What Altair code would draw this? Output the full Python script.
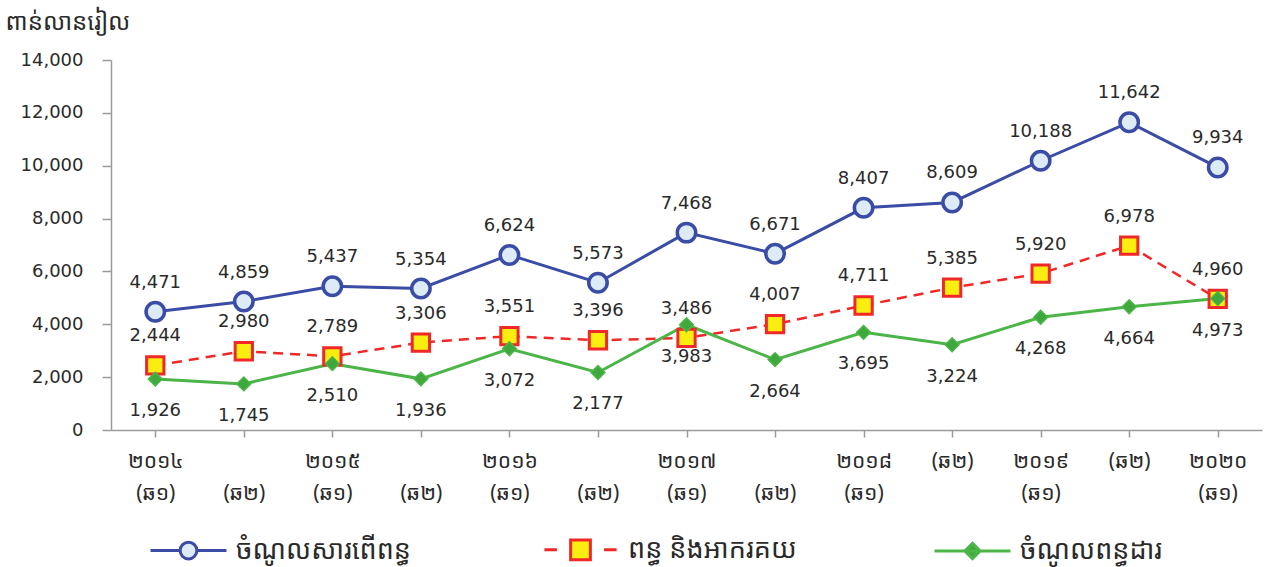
import altair as alt
import pandas as pd
import json

# ---- data ----
x_top = ["២០១៤", "", "២០១៥", "", "២០១៦", "", "២០១៧", "", "២០១៨", "(ឆ២)", "២០១៩", "(ឆ២)", "២០២០"]
x_bottom = ["(ឆ១)", "(ឆ២)", "(ឆ១)", "(ឆ២)", "(ឆ១)", "(ឆ២)", "(ឆ១)", "(ឆ២)", "(ឆ១)", "", "(ឆ១)", "", "(ឆ១)"]
series_names = ["ចំណូលសារពើពន្ធ", "ពន្ធ និងអាករគយ", "ចំណូលពន្ធដារ"]
tax_revenue = [4471, 4859, 5437, 5354, 6624, 5573, 7468, 6671, 8407, 8609, 10188, 11642, 9934]
customs = [2444, 2980, 2789, 3306, 3551, 3396, 3486, 4007, 4711, 5385, 5920, 6978, 4960]
domestic = [1926, 1745, 2510, 1936, 3072, 2177, 3983, 2664, 3695, 3224, 4268, 4664, 4973]
y_title = "ពាន់លានរៀល"

rows = []
for name, vals in zip(series_names, [tax_revenue, customs, domestic]):
    for i, v in enumerate(vals):
        rows.append({"i": i, "series": name, "value": v})
df = pd.DataFrame(rows)

BLUE = "#3A4CA6"
BLUE_FILL = "#DCEBF6"
RED = "#F02828"
YELLOW = "#FAEE10"
GREEN = "#4BB548"
GREEN_FILL = "#3FA83C"
TXT = "#2a2a2a"
GRAY = "#9A9A9A"
KH = "Noto Sans Khmer, Khmer OS, Khmer OS System, Noto Serif Khmer, Noto Sans, sans-serif"
NUMF = "DejaVu Sans"

label_arr = json.dumps([[t, b] for t, b in zip(x_top, x_bottom)], ensure_ascii=False)

x_enc = alt.X(
    "i:O",
    scale=alt.Scale(type="point", padding=0.5),
    axis=alt.Axis(
        title=None, labelAngle=0, labelExpr=f"{label_arr}[datum.value]",
        labelFont=KH, labelFontSize=21, labelColor=TXT, labelLineHeight=32,
        labelPadding=13, labelOverlap=False, labelBound=False,
        domainColor=GRAY, domainWidth=1.5, tickColor=GRAY, tickWidth=1.5, tickSize=7,
    ),
)
y_enc = alt.Y(
    "value:Q",
    scale=alt.Scale(domain=[0, 14000], nice=False),
    axis=alt.Axis(
        values=list(range(0, 14001, 2000)), format=",.0f", grid=False,
        title=y_title, titleAngle=0, titleX=-106, titleY=-38, titleAlign="left",
        titleBaseline="middle", titleFont=KH, titleFontSize=24, titleFontWeight="normal",
        titleColor=TXT,
        labelFont=NUMF, labelFontSize=18, labelColor=TXT, labelPadding=19,
        domainColor=GRAY, domainWidth=1.5, tickColor=GRAY, tickWidth=1.5, tickSize=9,
    ),
)

base = alt.Chart(df)

def sel(name):
    return base.transform_filter(alt.datum.series == name)

blue_line = sel(series_names[0]).mark_line(color=BLUE, strokeWidth=3).encode(x=x_enc, y=y_enc)
red_line = sel(series_names[1]).mark_line(color=RED, strokeWidth=2.5, strokeDash=[10, 7]).encode(x=x_enc, y=y_enc)
green_line = sel(series_names[2]).mark_line(color=GREEN, strokeWidth=3).encode(x=x_enc, y=y_enc)

blue_pts = sel(series_names[0]).mark_point(shape="circle", size=340, filled=True, fill=BLUE_FILL,
                                          stroke=BLUE, strokeWidth=3.5, opacity=1).encode(x=x_enc, y=y_enc)
red_pts = sel(series_names[1]).mark_point(shape="square", size=300, filled=True, fill=YELLOW,
                                         stroke=RED, strokeWidth=3, opacity=1).encode(x=x_enc, y=y_enc)
green_pts = sel(series_names[2]).mark_point(shape="diamond", size=190, filled=True, fill=GREEN_FILL,
                                           stroke=GREEN, strokeWidth=1.5, opacity=1).encode(x=x_enc, y=y_enc)

def labels(name, dy):
    return sel(name).mark_text(dy=dy, font=NUMF, fontSize=18, color=TXT, baseline="middle").encode(
        x=x_enc, y=y_enc, text=alt.Text("value:Q", format=",.0f")
    )

blue_txt = labels(series_names[0], -29)
red_txt = labels(series_names[1], -29)
green_txt = labels(series_names[2], 32)

# legend symbols: line + marker
shape_paths = [
    "M-1,0L-0.22,0M0.22,0L1,0M0.22,0A0.22,0.22 0 1,1 -0.22,0A0.22,0.22 0 1,1 0.22,0Z",
    "M-0.95,0L-0.62,0M0.62,0L0.95,0M-0.26,-0.26L0.26,-0.26L0.26,0.26L-0.26,0.26Z",
    "M-1,0L1,0M0,-0.2L0.2,0L0,0.2L-0.2,0Z",
]
leg = alt.Legend(
    title=None, orient="none", legendX=38, legendY=450, direction="horizontal",
    symbolSize=5776, symbolStrokeWidth=3, symbolOpacity=1,
    labelFont=KH, labelFontSize=27, labelColor=TXT, labelOffset=8, labelLimit=400,
    columnPadding=125, gridAlign="all",
)
legend_layer = base.mark_point(size=0, filled=True, opacity=1).encode(
    x=x_enc, y=y_enc,
    shape=alt.Shape("series:N", scale=alt.Scale(domain=series_names, range=shape_paths), legend=leg),
    fill=alt.Fill("series:N", scale=alt.Scale(domain=series_names, range=[BLUE_FILL, YELLOW, GREEN_FILL]), legend=leg),
    stroke=alt.Stroke("series:N", scale=alt.Scale(domain=series_names, range=[BLUE, RED, GREEN]), legend=leg),
)

chart = alt.layer(
    blue_line, red_line, green_line,
    blue_pts, red_pts, green_pts,
    blue_txt, red_txt, green_txt,
    legend_layer,
).properties(
    width=1151, height=370,
    padding={"left": 111, "top": 60, "right": 4, "bottom": 137},
    autosize=alt.AutoSizeParams(type="none"),
    background="white",
).configure_view(stroke=None)

chart.save("out.html", embed_options={"renderer": "svg", "actions": False})
